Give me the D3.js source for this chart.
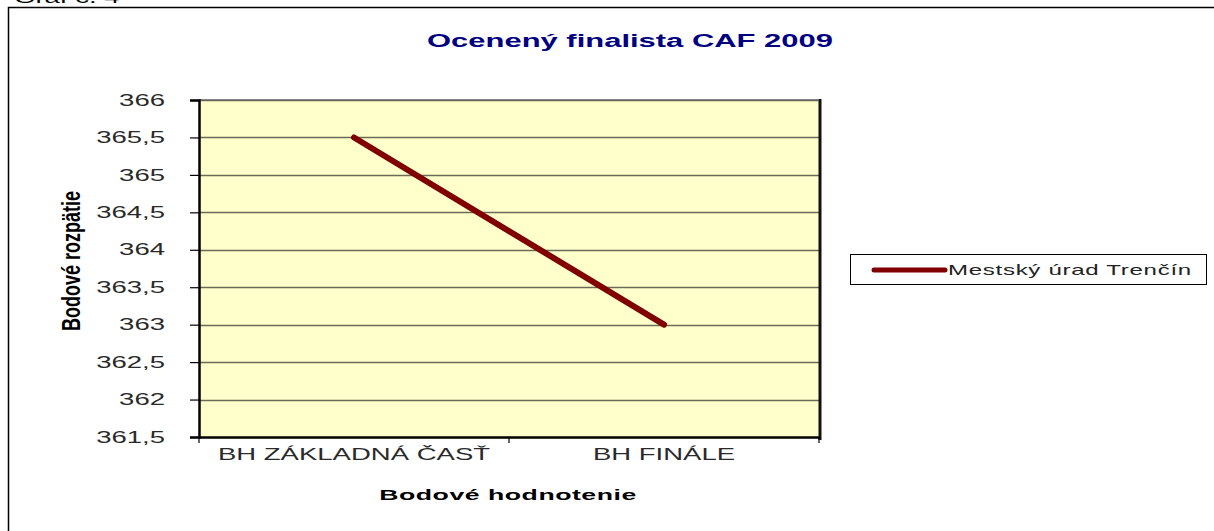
<!DOCTYPE html>
<html><head><meta charset="utf-8">
<script src="https://cdn.jsdelivr.net/npm/d3@7"></script>
<style>body{margin:0;background:#fff}svg{display:block}</style>
</head><body><svg id="c" width="1214" height="531"></svg>
<script>
const categories = ["BH ZÁKLADNÁ ČASŤ", "BH FINÁLE"];
const seriesName = "Mestský úrad Trenčín";
const seriesValues = [365.5, 363];
const yTicks = [361.5, 362, 362.5, 363, 363.5, 364, 364.5, 365, 365.5, 366];
const title = "Ocenený finalista CAF 2009";
const xTitle = "Bodové hodnotenie";
const yTitle = "Bodové rozpätie";
const caption = "Graf č. 4";

const svg = d3.select("#c");
const F = "Arial, 'Liberation Sans', sans-serif";
const SX = 1.72; // horizontal stretch of the reference's text
const m = {l:199, t:100, r:819, b:437};

function stretch(sel, sx){
  sel.each(function(){
    const t = d3.select(this);
    const x = +t.attr("x") || 0;
    t.attr("x", 0).attr("transform", `translate(${x},0) scale(${sx},1)`);
  });
}

const cap = svg.append("text").attr("x",14).attr("y",3).attr("font-family",F).attr("font-size",16).attr("fill","#000").text(caption);
stretch(cap, SX);
svg.append("rect").attr("x",8.5).attr("y",7.5).attr("width",1230).attr("height",560).attr("fill","none").attr("stroke","#000").attr("stroke-width",1.5);

const x = d3.scaleBand().domain(categories).range([m.l,m.r]);
const y = d3.scaleLinear().domain([361.5,366]).range([m.b,m.t]);

svg.append("rect").attr("x",m.l).attr("y",m.t).attr("width",m.r-m.l).attr("height",m.b-m.t).attr("fill","#FFFFCC");

// gridlines
svg.append("g").selectAll("line").data(yTicks.slice(1)).join("line")
  .attr("x1",m.l).attr("x2",m.r).attr("y1",d=>Math.round(y(d))+0.5).attr("y2",d=>Math.round(y(d))+0.5)
  .attr("stroke","#6b6b5a").attr("stroke-width",1.3);

// plot frame
svg.append("line").attr("x1",m.r+1).attr("x2",m.r+1).attr("y1",m.t-1).attr("y2",m.b+3).attr("stroke","#111").attr("stroke-width",3);
svg.append("line").attr("x1",m.l).attr("x2",m.r).attr("y1",m.t).attr("y2",m.t).attr("stroke","#666").attr("stroke-width",1.5);

// y axis
const ya = d3.axisLeft(y).tickValues(yTicks).tickSize(9).tickPadding(25)
  .tickFormat(d=>String(d).replace(".",","));
const gy = svg.append("g").attr("transform",`translate(${m.l},0)`).call(ya);
gy.select(".domain").attr("stroke","#000").attr("stroke-width",2.5);
gy.selectAll(".tick line").attr("stroke","#000").attr("stroke-width",1.2);
gy.selectAll("text").attr("font-family",F).attr("font-size",16).attr("fill","#2a2a2a");
stretch(gy.selectAll("text"), SX);

// x axis
const xa = d3.axisBottom(x).tickSize(0).tickPadding(12);
const gx = svg.append("g").attr("transform",`translate(0,${m.b})`).call(xa);
gx.select(".domain").attr("stroke","#000").attr("stroke-width",2.5);
gx.selectAll("text").attr("font-family",F).attr("font-size",16).attr("fill","#2a2a2a");
stretch(gx.selectAll("text"), SX);
svg.append("g").selectAll("line").data([m.l, x(categories[1]), m.r]).join("line")
  .attr("x1",d=>d).attr("x2",d=>d).attr("y1",m.b).attr("y2",m.b+6).attr("stroke","#000").attr("stroke-width",1.2);

// series line
const line = d3.line().x((d,i)=>x(categories[i])+x.bandwidth()/2).y(d=>y(d));
svg.append("path").datum(seriesValues).attr("d",line).attr("fill","none")
  .attr("stroke","#800000").attr("stroke-width",6).attr("stroke-linecap","round");

// titles
const tt = svg.append("text").attr("x",630).attr("y",47).attr("text-anchor","middle").attr("font-family",F)
  .attr("font-weight","bold").attr("font-size",18).attr("fill","#000080").text(title);
stretch(tt, SX);
const xt = svg.append("text").attr("x",508).attr("y",500).attr("text-anchor","middle").attr("font-family",F)
  .attr("font-weight","bold").attr("font-size",15.5).attr("letter-spacing",0.3).attr("fill","#000").text(xTitle);
stretch(xt, SX);
svg.append("text").attr("transform","translate(80,261) rotate(-90) scale(1,1.4)").attr("text-anchor","middle")
  .attr("font-family",F).attr("font-weight","bold").attr("font-size",18).attr("fill","#000").text(yTitle);

// legend
const lg = svg.append("g");
lg.append("rect").attr("x",850.5).attr("y",254.5).attr("width",356).attr("height",30).attr("fill","#fff").attr("stroke","#000").attr("stroke-width",1);
lg.append("line").attr("x1",874).attr("x2",945).attr("y1",270).attr("y2",270).attr("stroke","#800000").attr("stroke-width",5).attr("stroke-linecap","round");
const lt = lg.append("text").attr("x",948).attr("y",275).attr("font-family",F).attr("font-size",14).attr("letter-spacing",0.4).attr("fill","#222").text(seriesName);
stretch(lt, SX);
</script></body></html>
